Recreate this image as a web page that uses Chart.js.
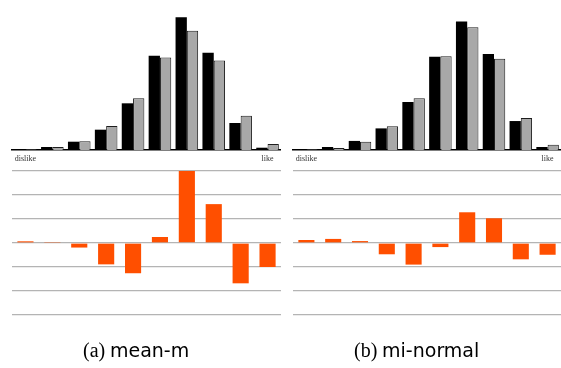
<!DOCTYPE html>
<html>
<head>
<meta charset="utf-8">
<script src="https://cdn.jsdelivr.net/npm/chart.js@4/dist/chart.umd.min.js"></script>
<style>
  body { margin: 0; width: 561px; height: 368px; background: #fff; position: relative; overflow: hidden; }
  canvas { position: absolute; }
  .caption { position: absolute; top: 340px; font-size: 19px; line-height: 1; color: #000; white-space: nowrap; }
  .caption .tag { font-family: "Liberation Serif", serif; font-size: 20px; }
  .caption .name { font-family: "DejaVu Sans", sans-serif; }
</style>
</head>
<body>
<canvas id="topA" width="281" height="170" style="left:0;top:0"></canvas>
<canvas id="diffA" width="281" height="170" style="left:0;top:160px"></canvas>
<canvas id="topB" width="280" height="170" style="left:281px;top:0"></canvas>
<canvas id="diffB" width="280" height="170" style="left:281px;top:160px"></canvas>
<div class="caption" style="left:83px"><span class="tag">(a)</span> <span class="name">mean-m</span></div>
<div class="caption" style="left:354px"><span class="tag">(b)</span> <span class="name">mi-normal</span></div>
<script>
//rating scale: only the two ends carry a label
const categories = ["dislike", "", "", "", "", "", "", "", "", "like"];

//(a) mean-m, share of ratings in % (black = first series, gray = second)
const blackA = [0.23, 0.69, 1.92, 4.7, 10.8, 21.8, 30.7, 22.5, 6.25, 0.53];
const grayA = [0.16, 0.69, 2.0, 5.55, 12.0, 21.4, 27.6, 20.7, 7.9, 1.4];
//(a) difference per rating
const diffA = [0.07, 0.04, -0.19, -0.89, -1.26, 0.25, 3.0, 1.62, -1.68, -1.0];

//(b) mi-normal
const blackB = [0.23, 0.69, 2.1, 5.0, 11.1, 21.6, 29.7, 22.2, 6.7, 0.7];
const grayB = [0.16, 0.46, 1.9, 5.5, 12.0, 21.7, 28.4, 21.1, 7.4, 1.2];
const diffB = [0.125, 0.17, 0.08, -0.47, -0.9, -0.17, 1.28, 1.03, -0.68, -0.49];

//gridline ticks of the difference plots
const diffTicks = [-3, -2, -1, 0, 1, 2, 3];

const topMax = 34.7;

//Histogram of the two rating distributions
const buildTop = (canvasId, blackVals, grayVals) => {
  const ctx = document.getElementById(canvasId).getContext("2d");
  return new Chart(ctx, {
    type: "bar",
    data: {
      labels: categories,
      datasets: [
        { data: blackVals, backgroundColor: "#000", borderWidth: 0 },
        { data: grayVals, backgroundColor: "#a8a8a8", borderColor: "#1e1e1e", borderWidth: 1 },
      ],
    },
    options: {
      responsive: false,
      animation: false,
      layout: { padding: { left: 12, right: 0, top: 0, bottom: 0 } },
      plugins: { legend: { display: false }, tooltip: { enabled: false } },
      datasets: { bar: { barPercentage: 1, categoryPercentage: 0.84 } },
      scales: {
        x: {
          grid: { display: false, drawTicks: false },
          border: { color: "#000", width: 1.5 },
          ticks: {
            autoSkip: false,
            maxRotation: 0,
            padding: 4,
            color: "#333",
            font: { family: "Liberation Serif", size: 8 },
          },
          afterFit: (scale) => { scale.height = 20; },
        },
        y: { display: false, min: 0, max: topMax },
      },
    },
  });
};

//Orange bars showing the difference, gray lines every unit
const buildDiff = (canvasId, vals) => {
  const ctx = document.getElementById(canvasId).getContext("2d");
  return new Chart(ctx, {
    type: "bar",
    data: {
      labels: categories,
      datasets: [{ data: vals, backgroundColor: "#ff4f00", borderWidth: 0 }],
    },
    options: {
      responsive: false,
      animation: false,
      layout: { padding: { left: 12, right: 0, top: 11, bottom: 15 } },
      plugins: { legend: { display: false }, tooltip: { enabled: false } },
      datasets: { bar: { barPercentage: 1, categoryPercentage: 0.6 } },
      scales: {
        x: { display: false },
        y: {
          min: diffTicks[0],
          max: diffTicks[diffTicks.length - 1],
          afterBuildTicks: (scale) => { scale.ticks = diffTicks.map((v) => ({ value: v })); },
          ticks: { display: false },
          grid: { color: "#b4b4b4", lineWidth: 1.3, drawTicks: false },
          border: { display: false },
          afterFit: (scale) => { scale.width = 0; },
        },
      },
    },
  });
};

buildTop("topA", blackA, grayA);
buildDiff("diffA", diffA);
buildTop("topB", blackB, grayB);
buildDiff("diffB", diffB);
</script>
</body>
</html>
